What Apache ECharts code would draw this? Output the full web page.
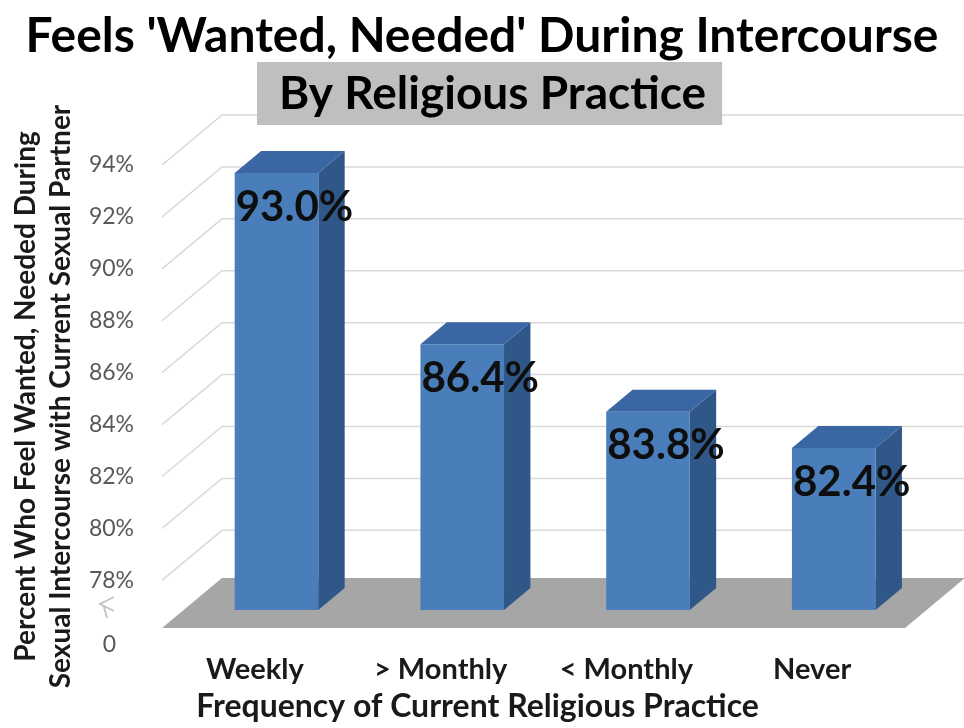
<!DOCTYPE html>
<html>
<head>
<meta charset="utf-8">
<script src="https://cdn.jsdelivr.net/npm/echarts@6/dist/echarts.min.js"></script>
<style>
html,body{margin:0;padding:0;background:#fff;}
#chart{width:964px;height:728px;}
</style>
</head>
<body>
<div id="chart"></div>
<script>
// ---- data ----
const categories = ['Weekly', '> Monthly', '< Monthly', 'Never'];
const values = [93.0, 86.4, 83.8, 82.4];
const tickValues = [78, 80, 82, 84, 86, 88, 90, 92, 94];
const titleText = "Feels 'Wanted, Needed' During Intercourse";
const subtitleText = 'By Religious Practice';
const yAxisName = 'Percent Who Feel Wanted, Needed During\nSexual Intercourse with Current Sexual Partner';
const xAxisName = 'Frequency of Current Religious Practice';

// ---- 3D look ----
const DEPTH_X = 60, DEPTH_Y = -50;
const BAR_FRONT = 0.36, BAR_BACK = 0.80, BAR_RATIO = 0.45;
const FONT = 'Lato';

const chart = echarts.init(document.getElementById('chart'));

function renderWalls(params, api) {
  const cs = params.coordSys;
  const y = api.coord([0, api.value(1)])[1];
  const x0 = cs.x, x1 = cs.x + cs.width;
  return {
    type: 'polyline',
    shape: { points: [[x0, y], [x0 + DEPTH_X, y + DEPTH_Y], [x1 + DEPTH_X, y + DEPTH_Y]] },
    style: { stroke: '#d9d9d9', lineWidth: 1.5, fill: null }
  };
}

function renderFloor(params, api) {
  const cs = params.coordSys;
  const y = api.coord([0, api.value(1)])[1];
  const x0 = cs.x, x1 = cs.x + cs.width;
  return {
    type: 'polygon',
    shape: { points: [[x0, y], [x1, y], [x1 + DEPTH_X, y + DEPTH_Y], [x0 + DEPTH_X, y + DEPTH_Y]] },
    style: { fill: '#a6a6a6' }
  };
}

function renderBar(params, api) {
  const i = api.value(0), v = api.value(1);
  const band = api.size([1, 0])[0];
  const w = band * BAR_RATIO;
  const topF = api.coord([i, v]);
  const botF = api.coord([i, 0]);
  const fx = DEPTH_X * BAR_FRONT, fy = DEPTH_Y * BAR_FRONT;
  const bx = DEPTH_X * BAR_BACK, by = DEPTH_Y * BAR_BACK;
  const L = topF[0] - w / 2, R = topF[0] + w / 2, T = topF[1], B = botF[1];
  return {
    type: 'group',
    children: [
      { type: 'polygon', shape: { points: [[R + fx, T + fy], [R + bx, T + by], [R + bx, B + by], [R + fx, B + fy]] }, style: { fill: '#2f5788' } },
      { type: 'polygon', shape: { points: [[L + fx, T + fy], [L + bx, T + by], [R + bx, T + by], [R + fx, T + fy]] }, style: { fill: '#3a67a3' } },
      { type: 'polygon', shape: { points: [[L + fx, T + fy], [R + fx, T + fy], [R + fx, B + fy], [L + fx, B + fy]] }, style: { fill: '#4a7ebb' } },
      { type: 'text', z2: 10, style: { text: v.toFixed(1) + '%', x: L + fx + 1, y: T + fy + 34, verticalAlign: 'middle', align: 'left', font: 'bold 42px ' + FONT, fill: '#0e0e0e' } }
    ]
  };
}

const option = {
  backgroundColor: '#fff',
  animation: false,
  title: [
    { text: titleText, left: 'center', top: 8, textStyle: { fontFamily: FONT, fontWeight: 'bold', fontSize: 48, color: '#000' } },
    { text: subtitleText, left: 257, top: 62, padding: [9, 16, 8, 22], backgroundColor: '#bfbfbf', textStyle: { fontFamily: FONT, fontWeight: 'bold', fontSize: 46, color: '#000' } }
  ],
  grid: { left: 161, right: 59, top: 165, bottom: 98 },
  xAxis: {
    type: 'category',
    data: categories,
    axisLine: { show: false },
    axisTick: { show: false },
    axisLabel: { margin: 27, fontFamily: FONT, fontWeight: 'bold', fontSize: 29, color: '#1a1a1a' },
    name: xAxisName,
    nameLocation: 'middle',
    nameGap: 63,
    nameTextStyle: { fontFamily: FONT, fontWeight: 'bold', fontSize: 32, color: '#1a1a1a', padding: [0, 112, 0, 0] }
  },
  yAxis: {
    type: 'value',
    min: 0,
    max: 94,
    interval: 2,
    breaks: [{ start: 0, end: 78, gap: '10.3%' }],
    breakArea: { show: false },
    axisLine: { show: false },
    axisTick: { show: false },
    splitLine: { show: false },
    axisLabel: {
      margin: 28,
      fontFamily: FONT,
      fontSize: 23,
      color: '#595959',
      showMinLabel: true,
      formatter: function (v) {
        if (v === 0) return '{zero|0}';
        if (tickValues.indexOf(v) >= 0) return v + '%';
        return '';
      },
      rich: { zero: { fontFamily: FONT, fontSize: 23, color: '#595959', padding: [34, 18, 0, 0] } }
    },
    name: yAxisName,
    nameLocation: 'middle',
    nameRotate: 90,
    nameGap: 84,
    nameTextStyle: { fontFamily: FONT, fontWeight: 'bold', fontSize: 28, lineHeight: 35, color: '#1a1a1a' }
  },
  graphic: [
    { type: 'polyline', shape: { points: [[114, 597], [100, 604], [114, 611]] }, style: { stroke: '#c0c0c0', lineWidth: 1.8, fill: null } },
    { type: 'polyline', shape: { points: [[104, 607], [107, 618]] }, style: { stroke: '#c0c0c0', lineWidth: 1.8, fill: null } }
  ],
  series: [
    { type: 'custom', name: 'walls', z: 1, silent: true, renderItem: renderWalls, data: tickValues.map(function (v) { return [0, v]; }) },
    { type: 'custom', name: 'floor', z: 2, silent: true, renderItem: renderFloor, data: [[0, 0]] },
    { type: 'custom', name: 'Percent', z: 3, renderItem: renderBar, data: categories.map(function (c, i) { return [i, values[i]]; }) }
  ]
};
chart.setOption(option);
</script>
</body>
</html>
